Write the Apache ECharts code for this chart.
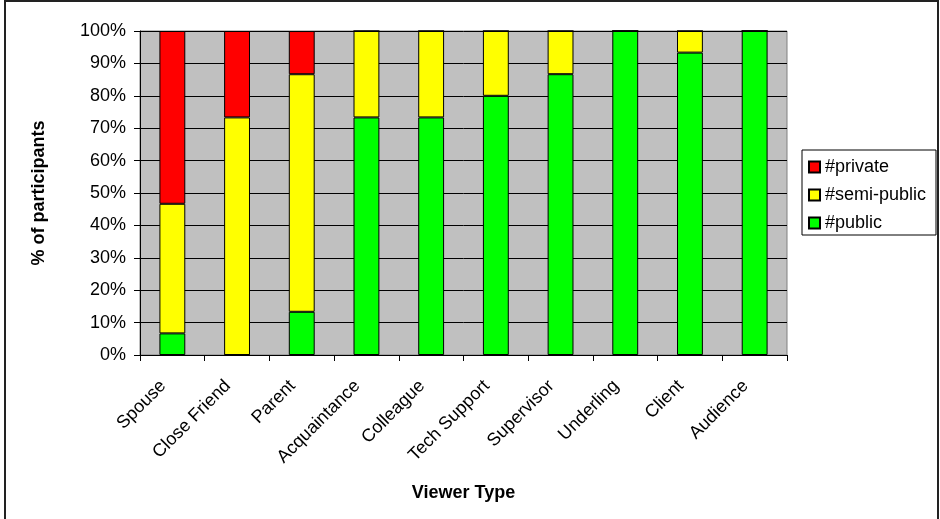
<!DOCTYPE html>
<html>
<head>
<meta charset="utf-8">
<script src="https://cdn.jsdelivr.net/npm/echarts@6/dist/echarts.min.js"></script>
<style>
  html, body { margin: 0; padding: 0; background: #fff; }
  #chart { width: 940px; height: 519px; }
</style>
</head>
<body>
<div id="chart"></div>
<script>
// Viewer types along the x axis
const categories = ['Spouse', 'Close Friend', 'Parent', 'Acquaintance', 'Colleague',
  'Tech Support', 'Supervisor', 'Underling', 'Client', 'Audience'];

// Share of participants (%) per disclosure level
const publicPct     = [6.67, 0, 13.33, 73.33, 73.33, 80, 86.67, 100, 93.33, 100];
const semiPublicPct = [40, 73.33, 73.33, 26.67, 26.67, 20, 13.33, 0, 6.67, 0];
const privatePct    = [53.33, 26.67, 13.33, 0, 0, 0, 0, 0, 0, 0];

const yTicks = { min: 0, max: 100, step: 10 };

const FONT = 'Liberation Sans, Arial, sans-serif';
const chart = echarts.init(document.getElementById('chart'), null, { renderer: 'canvas' });

const barStyle = (color) => ({ color: color, borderColor: '#000', borderWidth: 1 });

chart.setOption({
  animation: false,
  backgroundColor: '#fff',
  textStyle: { fontFamily: FONT },
  grid: {
    left: 140, right: 153, top: 31, bottom: 164,
    show: true, backgroundColor: '#C0C0C0', borderColor: '#808080', borderWidth: 1
  },
  legend: {
    data: ['#private', '#semi-public', '#public'],
    orient: 'vertical',
    left: 808, top: 158,
    padding: 0,
    itemGap: 10,
    itemWidth: 11, itemHeight: 11,
    icon: 'rect',
    textStyle: { fontFamily: FONT, fontSize: 18, color: '#000' }
  },
  xAxis: {
    type: 'category',
    data: categories,
    name: 'Viewer Type',
    nameLocation: 'middle',
    nameGap: 129,
    nameTextStyle: { fontFamily: FONT, fontSize: 18, fontWeight: 'bold', color: '#000' },
    axisLine: { lineStyle: { color: '#000', width: 1 } },
    axisTick: { show: true, length: 6, lineStyle: { color: '#000' } },
    axisLabel: {
      interval: 0, rotate: 45, margin: 19,
      padding: [0, 13, 0, 0],
      fontFamily: FONT, fontSize: 18, color: '#000'
    }
  },
  yAxis: {
    type: 'value',
    min: yTicks.min, max: yTicks.max, interval: yTicks.step,
    name: '% of participants',
    nameLocation: 'middle',
    nameGap: 92,
    nameTextStyle: { fontFamily: FONT, fontSize: 18, fontWeight: 'bold', color: '#000' },
    axisLine: { show: true, lineStyle: { color: '#000', width: 1 } },
    axisTick: { show: true, length: 6, lineStyle: { color: '#000' } },
    axisLabel: { formatter: '{value}%', margin: 14, fontFamily: FONT, fontSize: 18, color: '#000' },
    splitLine: { show: true, lineStyle: { color: '#000', width: 1 } }
  },
  series: [
    { name: '#public', type: 'bar', stack: 'share', barWidth: '40%', data: publicPct, itemStyle: barStyle('#00FF00') },
    { name: '#semi-public', type: 'bar', stack: 'share', barWidth: '40%', data: semiPublicPct, itemStyle: barStyle('#FFFF00') },
    { name: '#private', type: 'bar', stack: 'share', barWidth: '40%', data: privatePct, itemStyle: barStyle('#FF0000') }
  ],
  graphic: [
    {
      type: 'rect', silent: true,
      shape: { x: 5, y: 1, width: 933, height: 522 },
      style: { fill: 'none', stroke: '#222', lineWidth: 2 }
    },
    {
      type: 'rect', silent: true,
      shape: { x: 802, y: 150, width: 134, height: 85 },
      style: { fill: 'none', stroke: '#000', lineWidth: 1 }
    }
  ]
});
</script>
</body>
</html>
